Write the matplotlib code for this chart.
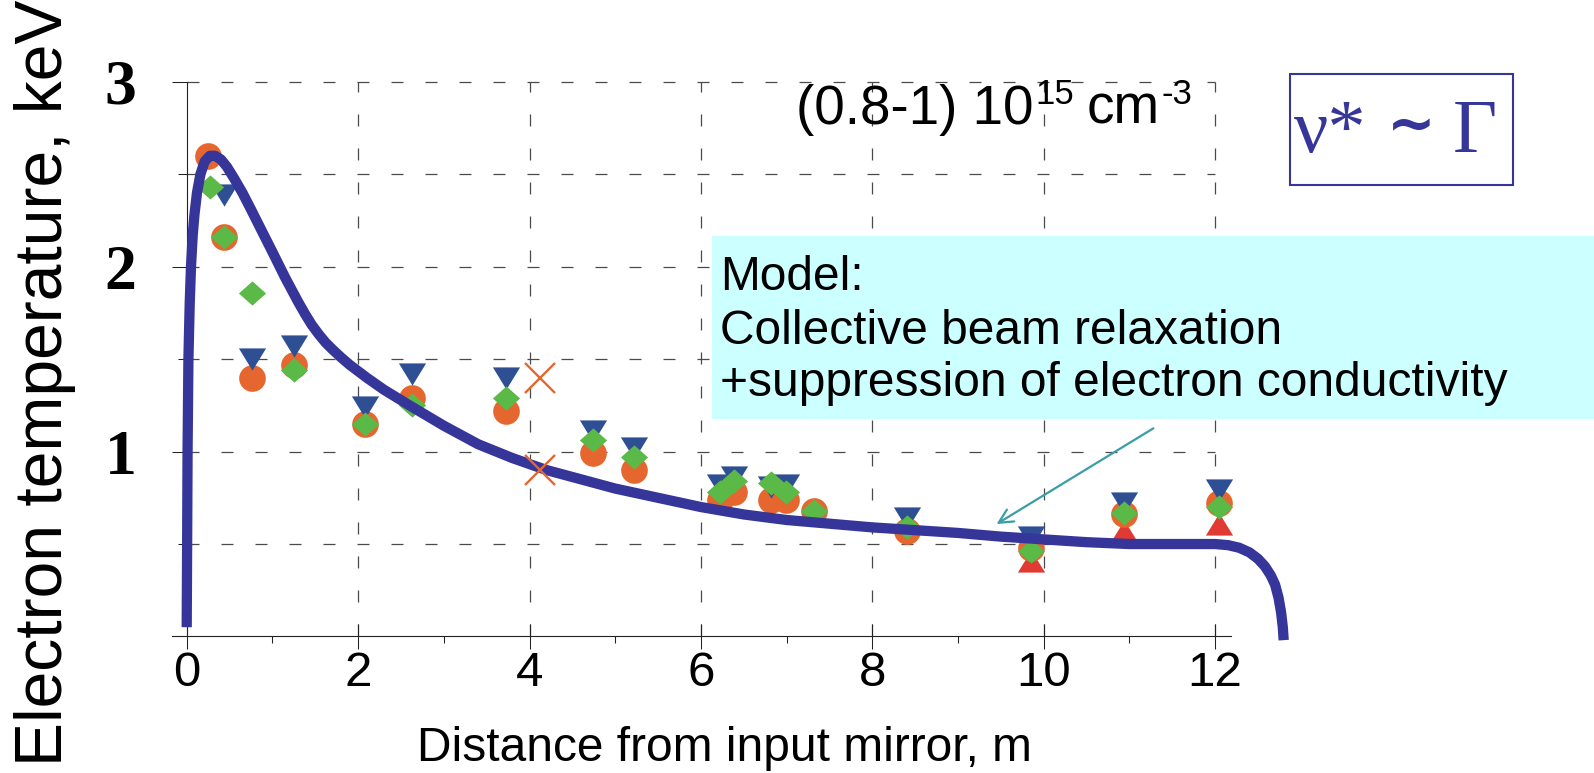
import matplotlib
matplotlib.use("Agg")
import matplotlib.pyplot as plt
from matplotlib.patches import Rectangle

# ---------------- data ----------------
# model curve: electron temperature along the device
model_x = [0.00, 0.005, 0.01, 0.02, 0.035, 0.05, 0.07, 0.09, 0.12, 0.16, 0.21, 0.27, 0.33,
           0.40, 0.47, 0.55, 0.65, 0.75, 0.88, 1.00, 1.15, 1.30, 1.38, 1.46, 1.54, 1.62,
           1.70, 1.80, 1.90, 2.10, 2.30, 2.60, 3.00, 3.40, 3.80, 4.20, 4.60, 5.00, 5.50,
           6.00, 6.50, 7.00, 7.50, 8.00, 8.50, 9.00, 9.50, 10.00, 10.50, 11.00, 11.50,
           12.00, 12.15, 12.28, 12.40, 12.50, 12.58, 12.65, 12.70, 12.74, 12.77, 12.79,
           12.80]
model_y = [0.05, 0.50, 1.00, 1.50, 1.80, 2.00, 2.17, 2.28, 2.40, 2.50, 2.57, 2.60, 2.60,
           2.58, 2.54, 2.48, 2.40, 2.31, 2.19, 2.08, 1.94, 1.81, 1.745, 1.685, 1.635, 1.59,
           1.553, 1.51, 1.47, 1.40, 1.335, 1.25, 1.14, 1.04, 0.965, 0.90, 0.85, 0.80, 0.75,
           0.70, 0.66, 0.63, 0.61, 0.59, 0.575, 0.56, 0.54, 0.525, 0.51, 0.50, 0.50,
           0.50, 0.494, 0.48, 0.455, 0.42, 0.38, 0.33, 0.28, 0.21, 0.13, 0.05, -0.02]

circ_x = [0.25, 0.43, 0.76, 1.25, 2.08, 2.63, 3.73, 4.74, 5.22, 6.22, 6.39, 6.82, 6.99,
          7.32, 8.41, 9.85, 10.94, 12.05]
circ_y = [2.60, 2.16, 1.40, 1.47, 1.15, 1.29, 1.22, 0.99, 0.90, 0.74, 0.78, 0.74, 0.74,
          0.68, 0.57, 0.48, 0.66, 0.72]

tdown_x = [0.43, 0.76, 1.25, 2.08, 2.63, 3.73, 4.74, 5.22, 6.22, 6.39, 6.82, 6.99, 8.41,
           9.85, 10.94, 12.05]
tdown_y = [2.39, 1.50, 1.57, 1.24, 1.42, 1.40, 1.11, 1.02, 0.82, 0.86, 0.81, 0.82, 0.64,
           0.54, 0.72, 0.79]

diam_x = [0.27, 0.43, 0.76, 1.25, 2.08, 2.63, 3.73, 4.74, 5.22, 6.22, 6.39, 6.82, 6.99,
          7.32, 8.41, 9.85, 10.94, 12.05]
diam_y = [2.43, 2.16, 1.86, 1.44, 1.15, 1.25, 1.29, 1.06, 0.97, 0.78, 0.84, 0.83, 0.78,
          0.68, 0.59, 0.46, 0.67, 0.70]

tup_x = [9.85, 10.94, 12.05]
tup_y = [0.41, 0.57, 0.61]

cross_x = [4.12, 4.12]
cross_y = [1.40, 0.90]

x_ticks = [0, 2, 4, 6, 8, 10, 12]
x_tick_labels = ["0", "2", "4", "6", "8", "10", "12"]
x_minor = [1, 3, 5, 7, 9, 11]
y_ticks = [1, 2, 3]
y_tick_labels = ["1", "2", "3"]
y_minor = [0.5, 1.5, 2.5]
y_grid = [0.5, 1.0, 1.5, 2.0, 2.5, 3.0]
x_grid = [2, 4, 6, 8, 10, 12]

model_lines = ["Model:", "Collective beam relaxation",
               "+suppression of electron conductivity"]

# ---------------- style ----------------
NAVY = "#35359A"
ORANGE = "#E5672F"
BLUE = "#2F4F94"
GREEN = "#5BB947"
RED = "#E03A33"
TEAL = "#3A9EA6"
GRID = "#4a4a4a"
AXC = "#222222"

plt.rcParams["font.family"] = ["Liberation Sans", "DejaVu Sans"]

W, H, DPI = 1594, 773, 100
fig = plt.figure(figsize=(W / DPI, H / DPI), dpi=DPI)


def fx(p):
    return p / W


def fy(p):
    return (H - p) / H


ax = fig.add_axes([0.10100, 0.16468, 0.71506, 0.74139])
ax.set_xlim(-0.3, 13.0)
ax.set_ylim(-0.05, 3.05)
ax.patch.set_alpha(0)

# dashed grid, limited to the data frame
dash = (0, (9.6, 17.6))
ax.hlines(y_grid, 0, 12, colors=GRID, linestyles=[dash], lw=0.9, zorder=1)
ax.vlines(x_grid, 0, 3, colors=GRID, linestyles=[dash], lw=0.9, zorder=1)

# spines
for s in ("top", "right"):
    ax.spines[s].set_visible(False)
ax.spines["left"].set_position(("data", 0))
ax.spines["left"].set_bounds(0, 3)
ax.spines["bottom"].set_position(("data", 0))
ax.spines["bottom"].set_bounds(-0.17, 12.18)
for s in ("left", "bottom"):
    ax.spines[s].set_color(AXC)
    ax.spines[s].set_linewidth(0.8)

# ticks
ax.set_xticks(x_ticks, labels=x_tick_labels, fontsize=35.5)
ax.set_xticks(x_minor, minor=True)
ax.set_yticks(y_ticks, labels=y_tick_labels, fontsize=46,
              fontfamily="Liberation Serif", fontweight="bold")
ax.set_yticks(y_minor, minor=True)
ax.tick_params(axis="x", which="major", direction="inout", length=18, width=0.75,
               color=AXC, pad=1.5)
ax.tick_params(axis="x", which="minor", direction="out", length=5, width=0.75, color=AXC)
ax.tick_params(axis="y", which="major", direction="out", length=11, width=0.75,
               color=AXC, pad=25)
ax.tick_params(axis="y", which="minor", direction="out", length=6.5, width=0.75, color=AXC)

# markers
tri_down = [(-1, 0.815), (1, 0.815), (0, -0.815)]
tri_up = [(-1, -0.815), (1, -0.815), (0, 0.815)]
diamond = [(-1, 0), (0, 0.89), (1, 0), (0, -0.89)]

ax.plot(tup_x, tup_y, linestyle="none", marker=tri_up, ms=19.6, mew=0, color=RED, zorder=3)
ax.plot(circ_x, circ_y, linestyle="none", marker="o", ms=19.2, mew=0, color=ORANGE, zorder=3.1)
ax.plot(tdown_x, tdown_y, linestyle="none", marker=tri_down, ms=19.6, mew=0, color=BLUE,
        zorder=3.2)
ax.plot(diam_x, diam_y, linestyle="none", marker=diamond, ms=19.6, mew=0, color=GREEN,
        zorder=3.3)

# model curve
ax.plot(model_x, model_y, color=NAVY, lw=7.4, solid_capstyle="butt",
        solid_joinstyle="round", zorder=5, clip_on=False)

ax.plot(cross_x, cross_y, linestyle="none", marker="x", ms=22, mew=1.7, color=ORANGE,
        zorder=6)

# pointer from the model note to the curve
ax.annotate("", xy=(9.45, 0.608), xytext=(11.28, 1.126),
            arrowprops=dict(arrowstyle="->", color=TEAL, lw=1.6, shrinkA=0, shrinkB=0,
                            mutation_scale=25),
            annotation_clip=False, zorder=4)

# axis titles
fig.text(fx(62), fy(383), "Electron temperature, keV", rotation=90,
         rotation_mode="anchor", ha="center", va="baseline", fontsize=47.5)
fig.text(fx(724.8), fy(761), "Distance from input mirror, m", ha="center",
         va="baseline", fontsize=34.5)

# density annotation, built from runs with raised exponents
renderer = fig.canvas.get_renderer()
density_runs = [("(0.8-1) 10", 39.5, 0, 0), ("15", 25, 20, 2),
                ("cm", 39.5, 0, 13), ("-3", 25, 20, 1)]
run_texts = []
total = 0.0
for s, size, rise, gap in density_runs:
    t = fig.text(0, 0, s, fontsize=size, ha="left", va="baseline")
    w = t.get_window_extent(renderer).width
    run_texts.append((t, w, rise, gap))
    total += gap + w
x_run = 1192 - total
for t, w, rise, gap in run_texts:
    x_run += gap
    t.set_position((fx(x_run), fy(124 - rise)))
    x_run += w

# model note on a cyan panel
fig.add_artist(Rectangle((fx(712), fy(419)), (W - 712) / W, (419 - 236) / H,
                         transform=fig.transFigure, facecolor="#CCFFFF",
                         edgecolor="none", zorder=2))
for line, base in zip(model_lines, [290, 344, 396]):
    fig.text(fx(720), fy(base), line, ha="left", va="baseline", fontsize=34.5, zorder=3)

# scaling relation in a framed box
fig.add_artist(Rectangle((fx(1290), fy(185)), 223 / W, 111 / H, transform=fig.transFigure,
                         facecolor="white", edgecolor=NAVY, lw=1.5, zorder=2))
serif = "Liberation Serif"
fig.text(fx(1294), fy(151.7), "ν*", ha="left", va="baseline", fontsize=55,
         fontfamily=serif, color=NAVY, zorder=3)
fig.text(fx(1411), fy(143), "~", ha="center", va="baseline", fontsize=42,
         fontfamily="DejaVu Sans", fontweight="bold", color=NAVY, zorder=3)
fig.text(fx(1453), fy(151.7), "Γ", ha="left", va="baseline", fontsize=55,
         fontfamily=serif, color=NAVY, zorder=3)

fig.savefig("out.png", dpi=DPI)
